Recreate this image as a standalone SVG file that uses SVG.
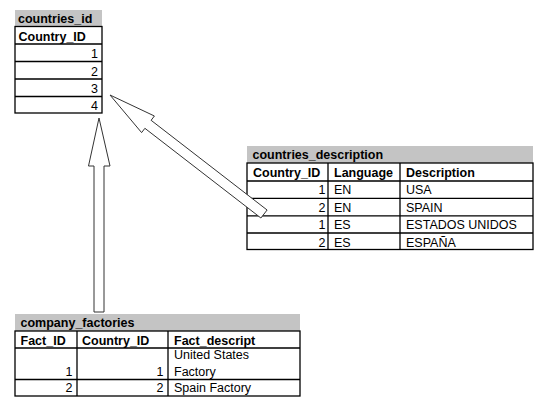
<svg xmlns="http://www.w3.org/2000/svg" width="540" height="402" viewBox="0 0 540 402">
<style>
.band{fill:#c4c4c4;stroke:none}
.tbl{fill:#fff;stroke:#000;stroke-width:1.3}
.ln{stroke:#000;stroke-width:1.3;fill:none}
text{font-family:"Liberation Sans",Arial,sans-serif;font-size:12.5px;fill:#000}
.b{font-weight:bold}
.r{text-anchor:end}
.arrow{fill:#fff;stroke:#333;stroke-width:1}
</style>
<rect width="540" height="402" fill="#fff"/>
<g id="countries_id">
<rect class="band" x="15" y="10" width="87" height="16.5"/>
<text class="b" x="18" y="23">countries_id</text>
<rect class="tbl" x="15" y="26.5" width="87" height="86.5"/>
<path class="ln" d="M15 44H102M15 61.5H102M15 79H102M15 96.5H102"/>
<text class="b" x="18.5" y="40.5">Country_ID</text>
<text class="r" x="98" y="58">1</text>
<text class="r" x="98" y="75.5">2</text>
<text class="r" x="98" y="93">3</text>
<text class="r" x="98" y="110">4</text>
</g>
<g id="countries_description">
<rect class="band" x="247" y="146" width="286" height="17"/>
<text class="b" x="252.5" y="159.3">countries_description</text>
<rect class="tbl" x="247" y="163" width="286" height="86.5"/>
<path class="ln" d="M247 181H533M247 198.3H533M247 215.8H533M247 233H533M328 163V249.5M400 163V249.5"/>
<text class="b" x="253" y="177.3">Country_ID</text>
<text class="b" x="334" y="177.3">Language</text>
<text class="b" x="406" y="177.3">Description</text>
<text class="r" x="325.5" y="194.3">1</text>
<text x="334" y="194.3">EN</text>
<text x="406" y="194.3">USA</text>
<text class="r" x="325.5" y="211.7">2</text>
<text x="334" y="211.7">EN</text>
<text x="406" y="211.7">SPAIN</text>
<text class="r" x="325.5" y="229.2">1</text>
<text x="334" y="229.2">ES</text>
<text x="406" y="229.2">ESTADOS UNIDOS</text>
<text class="r" x="325.5" y="246.5">2</text>
<text x="334" y="246.5">ES</text>
<text x="406" y="246.5">ESPAÑA</text>
</g>
<g id="company_factories">
<rect class="band" x="15" y="314" width="285" height="17"/>
<text class="b" x="20.5" y="327.3">company_factories</text>
<rect class="tbl" x="15" y="331" width="285" height="65"/>
<path class="ln" d="M15 348H300M15 379.5H300M77 331V396M168 331V396"/>
<text class="b" x="20.5" y="345">Fact_ID</text>
<text class="b" x="82" y="345">Country_ID</text>
<text class="b" x="174" y="345">Fact_descript</text>
<text x="174" y="359.3">United States</text>
<text class="r" x="72.5" y="375.5">1</text>
<text class="r" x="163.5" y="375.5">1</text>
<text x="174" y="375.5">Factory</text>
<text class="r" x="72.5" y="392.3">2</text>
<text class="r" x="163.5" y="392.3">2</text>
<text x="174" y="392.3">Spain Factory</text>
</g>
<g id="connectors">
<polygon class="arrow" points="99,118 110,166 104,166 104,312 94,312 94,166 88.5,166"/>
<polygon class="arrow" points="110,95 154.4,116 151.1,120.3 267.1,210 260.9,218 144.9,128.3 141.6,132.6"/>
</g>
</svg>
